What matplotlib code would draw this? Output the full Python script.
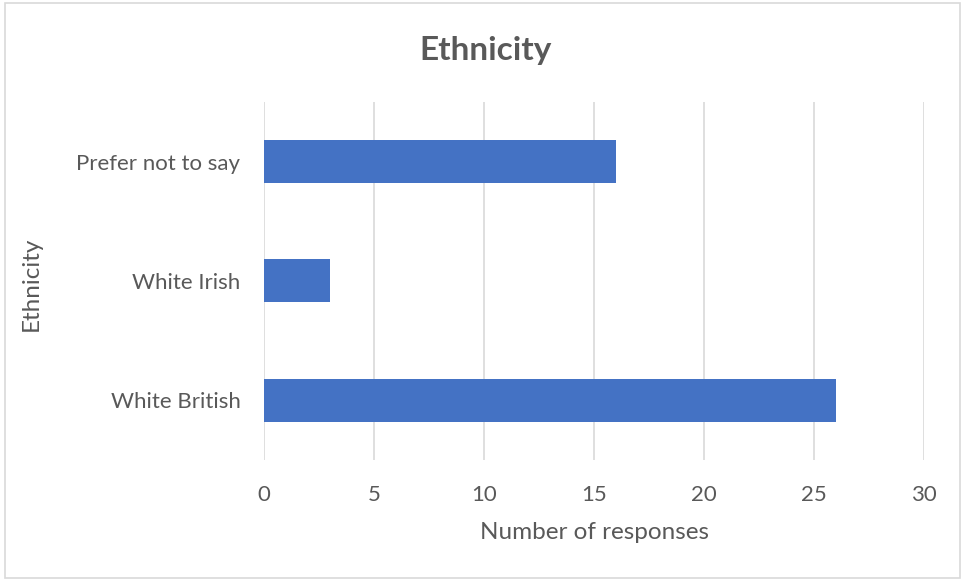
import matplotlib.pyplot as plt
from matplotlib.patches import Rectangle

# Survey counts per ethnicity
categories = ["White British", "White Irish", "Prefer not to say"]
responses = [26, 3, 16]
x_ticks = [0, 5, 10, 15, 20, 25, 30]

text_grey = "#595959"
bar_blue = "#4472C4"
grid_grey = "#d9d9d9"

plt.rcParams['font.family'] = ['Lato', 'DejaVu Sans']

fig = plt.figure(figsize=(9.65, 5.81), dpi=100)
ax = fig.add_axes([0.2736, 0.2083, 0.6839, 0.6162])

ax.barh(range(len(categories)), responses, height=0.36, color=bar_blue, zorder=3)

ax.set_xlim(0, 30)
ax.set_ylim(-0.5, len(categories) - 0.5)
ax.set_xticks(x_ticks)
ax.set_yticks(range(len(categories)))
ax.set_yticklabels(categories)

ax.grid(axis="x", color=grid_grey, linewidth=1.2, zorder=0)
for s in ax.spines.values():
    s.set_visible(False)
ax.tick_params(axis="both", length=0, labelsize=16, colors=text_grey)
ax.tick_params(axis="x", pad=18)
ax.tick_params(axis="y", pad=17)

ax.set_xlabel("Number of responses", fontsize=17.5, color=text_grey, labelpad=12)
fig.text(0.032, 0.512, "Ethnicity", rotation=90, fontsize=17.5, color=text_grey,
         ha="center", va="center")
fig.text(0.503, 0.913, "Ethnicity", fontsize=24, fontweight="bold",
         color=text_grey, ha="center", va="center")

# light frame around the chart area
fig.patches.append(Rectangle((0.005, 0.005), 0.99, 0.99, transform=fig.transFigure,
                             fill=False, edgecolor=grid_grey, linewidth=1.2))

fig.savefig("out.png", dpi=100)
